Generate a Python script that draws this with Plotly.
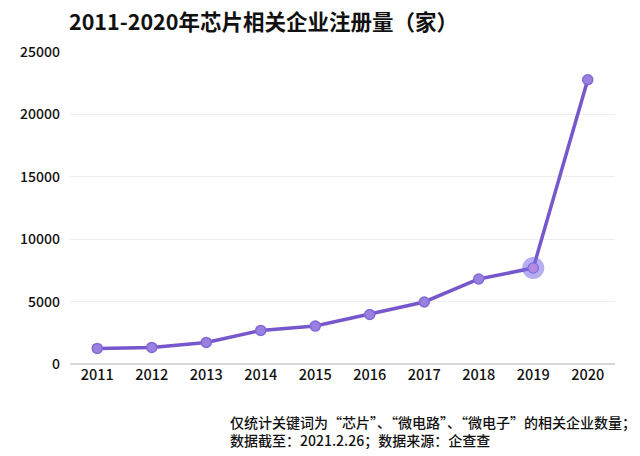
import plotly.graph_objects as go

# 2011-2020 chip-related company registrations
years = ["2011", "2012", "2013", "2014", "2015", "2016", "2017", "2018", "2019", "2020"]
counts = [1250, 1330, 1730, 2690, 3040, 3970, 4970, 6810, 7690, 22780]
y_ticks = [0, 5000, 10000, 15000, 20000, 25000]
y_tick_text = ["0", "5000", "10000", "15000", "20000", "25000"]

title_text = "2011-2020年芯片相关企业注册量（家）"
note_lines = ["仅统计关键词为“芯片”、“微电路”、“微电子”的相关企业数量；",
              "数据截至：2021.2.26；数据来源：企查查"]

font_family = "Noto Sans CJK SC"
line_color = "#7658cc"

fig = go.Figure()

fig.add_trace(go.Scatter(
    x=years, y=counts,
    mode="lines+markers",
    line=dict(color=line_color, width=3.5),
    marker=dict(size=10, color="#9a80e0", line=dict(color="#8469d6", width=1.5)),
    showlegend=False,
))

# highlighted 2019 point: halo plus pinkish core
fig.add_trace(go.Scatter(
    x=[years[8]], y=[counts[8]],
    mode="markers",
    marker=dict(size=22, color="rgba(120,110,230,0.55)", line=dict(width=0)),
    hoverinfo="skip", showlegend=False,
))
fig.add_trace(go.Scatter(
    x=[years[8]], y=[counts[8]],
    mode="markers",
    marker=dict(size=9, color="#b68ae4", line=dict(width=0)),
    hoverinfo="skip", showlegend=False,
))

# the page body adds an 8px offset, so the figure is trimmed to fit the window
fig.update_layout(
    width=632, height=448,
    paper_bgcolor="white", plot_bgcolor="white",
    margin=dict(l=62, r=25, t=44, b=92),
    font=dict(family=font_family, color="#222222", size=14),
    xaxis=dict(
        type="category", categoryorder="array", categoryarray=years,
        range=[-0.5, len(years) - 0.5],
        showgrid=False, showline=False, zeroline=False,
        ticks="", tickfont=dict(size=14.5, color="#111111", weight=500),
    ),
    yaxis=dict(
        range=[0, 25000], automargin=False,
        tickvals=y_ticks, ticktext=y_tick_text,
        showgrid=True, gridcolor="#eeeeee", gridwidth=1,
        zeroline=True, zerolinecolor="#d8d8d8", zerolinewidth=1.5,
        showline=False, ticks="",
        tickfont=dict(size=14, color="#111111", weight=500),
        ticklabelstandoff=9,
    ),
    annotations=[
        dict(text="<b>" + title_text + "</b>", xref="paper", yref="paper",
             x=0, y=1, xanchor="left", yanchor="bottom", xshift=-3, yshift=14,
             showarrow=False, font=dict(size=21.5, color="#111111", family=font_family)),
        dict(text=note_lines[0] + "<br>" + note_lines[1], xref="paper", yref="paper",
             x=0.29, y=0, xanchor="left", yanchor="top", align="left", yshift=-46,
             showarrow=False, font=dict(size=14, color="#111111", family=font_family, weight=500)),
    ],
)

fig.write_html("out.html")
